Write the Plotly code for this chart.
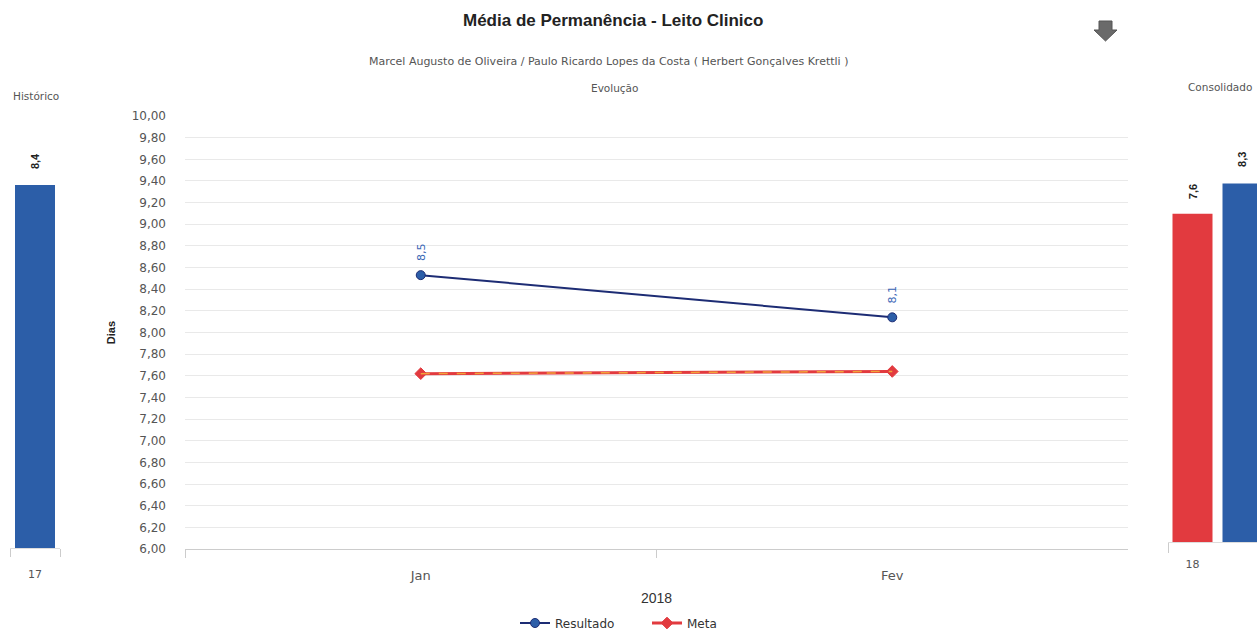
import plotly.graph_objects as go

# ---------------- data ----------------
months = ["Jan", "Fev"]
resultado = [8.53, 8.14]
meta = [7.62, 7.64]

hist_cat = ["17"]
hist_val = [8.4]

cons_label = "18"
cons_meta = 7.6
cons_result = 8.3

title = "Média de Permanência - Leito Clinico"
subtitle = "Marcel Augusto de Oliveira / Paulo Ricardo Lopes da Costa ( Herbert Gonçalves Krettli )"

W, H = 1257, 630
def px(x):
    return x / W
def py(y):
    return 1 - y / H

def fmt1(v):
    return f"{v:.1f}".replace(".", ",")

BLUE = "#2c5ea8"
NAVY = "#1d2c74"
RED = "#e23a3f"
ORANGE = "#f2a23a"
FONT = "Liberation Sans"
WIDE = "DejaVu Sans"

fig = go.Figure()

# main chart
fig.add_trace(go.Scatter(
    x=months, y=resultado, name="Resultado", mode="lines+markers",
    line=dict(color=NAVY, width=2),
    marker=dict(symbol="circle", size=9, color=BLUE, line=dict(color=NAVY, width=1)),
    xaxis="x", yaxis="y"))
fig.add_trace(go.Scatter(
    x=months, y=meta, name="Meta", mode="lines+markers",
    line=dict(color=RED, width=3),
    marker=dict(symbol="diamond", size=9, color=RED, line=dict(color=RED, width=1)),
    xaxis="x", yaxis="y"))
fig.add_trace(go.Scatter(
    x=months, y=meta, showlegend=False, mode="lines", hoverinfo="skip",
    line=dict(color=ORANGE, width=1.5, dash="dash"),
    xaxis="x", yaxis="y"))

# left: historico
fig.add_trace(go.Bar(
    x=hist_cat, y=hist_val, width=0.8, marker=dict(color=BLUE, line=dict(width=0)),
    showlegend=False, xaxis="x2", yaxis="y2"))

# right: consolidado
fig.add_trace(go.Bar(
    x=[0], y=[cons_meta], width=0.8, marker=dict(color=RED, line=dict(width=0)),
    showlegend=False, xaxis="x3", yaxis="y3"))
fig.add_trace(go.Bar(
    x=[1], y=[cons_result], width=0.8, marker=dict(color=BLUE, line=dict(width=0)),
    showlegend=False, xaxis="x3", yaxis="y3"))

annotations = []
# data labels main
for i, v in enumerate(resultado):
    annotations.append(dict(x=i, y=v, xref="x", yref="y", text=fmt1(v), showarrow=False,
                            textangle=-90, yshift=23, font=dict(family=WIDE, size=11, color="#3a66b5")))
# bar labels
annotations.append(dict(x=0, y=hist_val[0], xref="x2", yref="y2", text="<b>" + fmt1(hist_val[0]) + "</b>",
                        showarrow=False, textangle=-90, yshift=24,
                        font=dict(family=FONT, size=11, color="#222")))
annotations.append(dict(x=0, y=cons_meta, xref="x3", yref="y3", text="<b>" + fmt1(cons_meta) + "</b>",
                        showarrow=False, textangle=-90, yshift=22,
                        font=dict(family=FONT, size=11, color="#222")))
annotations.append(dict(x=1, y=cons_result, xref="x3", yref="y3", text="<b>" + fmt1(cons_result) + "</b>",
                        showarrow=False, textangle=-90, yshift=24,
                        font=dict(family=FONT, size=11, color="#222")))
# texts
annotations += [
    dict(x=px(613), y=py(20), xref="paper", yref="paper", text="<b>" + title + "</b>", showarrow=False,
         xanchor="center", yanchor="middle", font=dict(family=FONT, size=17, color="#222")),
    dict(x=px(608), y=py(62), xref="paper", yref="paper", text=subtitle, showarrow=False,
         xanchor="center", yanchor="middle", font=dict(family=WIDE, size=11, color="#555")),
    dict(x=px(614), y=py(88), xref="paper", yref="paper", text="Evolução", showarrow=False,
         xanchor="center", yanchor="middle", font=dict(family=WIDE, size=10.5, color="#555")),
    dict(x=px(36), y=py(96), xref="paper", yref="paper", text="Histórico", showarrow=False,
         xanchor="center", yanchor="middle", font=dict(family=WIDE, size=10.5, color="#555")),
    dict(x=px(1220), y=py(87), xref="paper", yref="paper", text="Consolidado", showarrow=False,
         xanchor="center", yanchor="middle", font=dict(family=WIDE, size=10.5, color="#555")),
]

# download icon
x0, x1, x2, x3, xm = px(1099), px(1112), px(1094), px(1117), px(1105.5)
ya, yb, yc = py(21), py(30), py(41)
icon = dict(type="path", xref="paper", yref="paper",
            path=f"M {x0} {ya} L {x1} {ya} L {x1} {yb} L {x3} {yb} L {xm} {yc} L {x2} {yb} L {x0} {yb} Z",
            fillcolor="#6a6a6a", line=dict(color="#555", width=1))

fig.update_layout(
    width=W, height=H, margin=dict(l=0, r=0, t=0, b=0, autoexpand=False),
    paper_bgcolor="white", plot_bgcolor="white",
    separators=",.",
    font=dict(family=FONT, size=12, color="#444"),
    barmode="overlay",
    showlegend=True,
    legend=dict(orientation="h", x=px(515), xanchor="left", y=py(623), yanchor="middle",
                font=dict(family=WIDE, size=12, color="#333"), itemwidth=30, tracegroupgap=0,
                entrywidth=87, entrywidthmode="pixels"),
    annotations=annotations,
    shapes=[icon],
    xaxis=dict(domain=[px(185), px(1128)], anchor="y", type="category", categoryorder="array",
               categoryarray=months, range=[-0.5, 1.5], tickson="boundaries", ticks="outside",
               ticklen=8, tickcolor="#cccccc", showline=True, linecolor="#cccccc", linewidth=1,
               showgrid=False, zeroline=False, ticklabelstandoff=14,
               tickfont=dict(family=WIDE, size=13, color="#555"),
               title=dict(text="2018", standoff=11, font=dict(family=FONT, size=14, color="#333"))),
    yaxis=dict(domain=[py(549), py(116)], anchor="x", range=[6, 10], dtick=0.2, tick0=6,
               tickformat=".2f", showgrid=True, gridcolor="#e9e9e9", gridwidth=1, zeroline=False,
               showline=False, ticks="", ticklabelstandoff=18,
               tickfont=dict(family=WIDE, size=12, color="#555"),
               title=dict(text="<b>Dias</b>", standoff=13, font=dict(family=FONT, size=11, color="#222"))),
    xaxis2=dict(domain=[px(10), px(60)], anchor="y2", type="category", range=[-0.5, 0.5],
                tickson="boundaries", ticks="outside", ticklen=8, tickcolor="#cccccc",
                showline=True, linecolor="#dddddd", showgrid=False, zeroline=False,
                ticklabelstandoff=16,
                tickfont=dict(family=WIDE, size=11, color="#555")),
    yaxis2=dict(domain=[py(548), py(116)], anchor="x2", range=[0, 10], visible=False),
    xaxis3=dict(domain=[px(1168), 1.0], anchor="y3", range=[-0.49, 1.29],
                tickmode="array", tickvals=[0], ticktext=[cons_label], ticks="",
                minor=dict(tickmode="array", tickvals=[-0.49], ticks="outside", ticklen=10,
                           tickcolor="#cccccc", showgrid=False),
                showline=True, linecolor="#dddddd", showgrid=False, zeroline=False,
                ticklabelstandoff=12,
                tickfont=dict(family=WIDE, size=11, color="#555")),
    yaxis3=dict(domain=[py(542), py(110)], anchor="x3", range=[0, 10], visible=False),
)

fig.write_html("out.html")
